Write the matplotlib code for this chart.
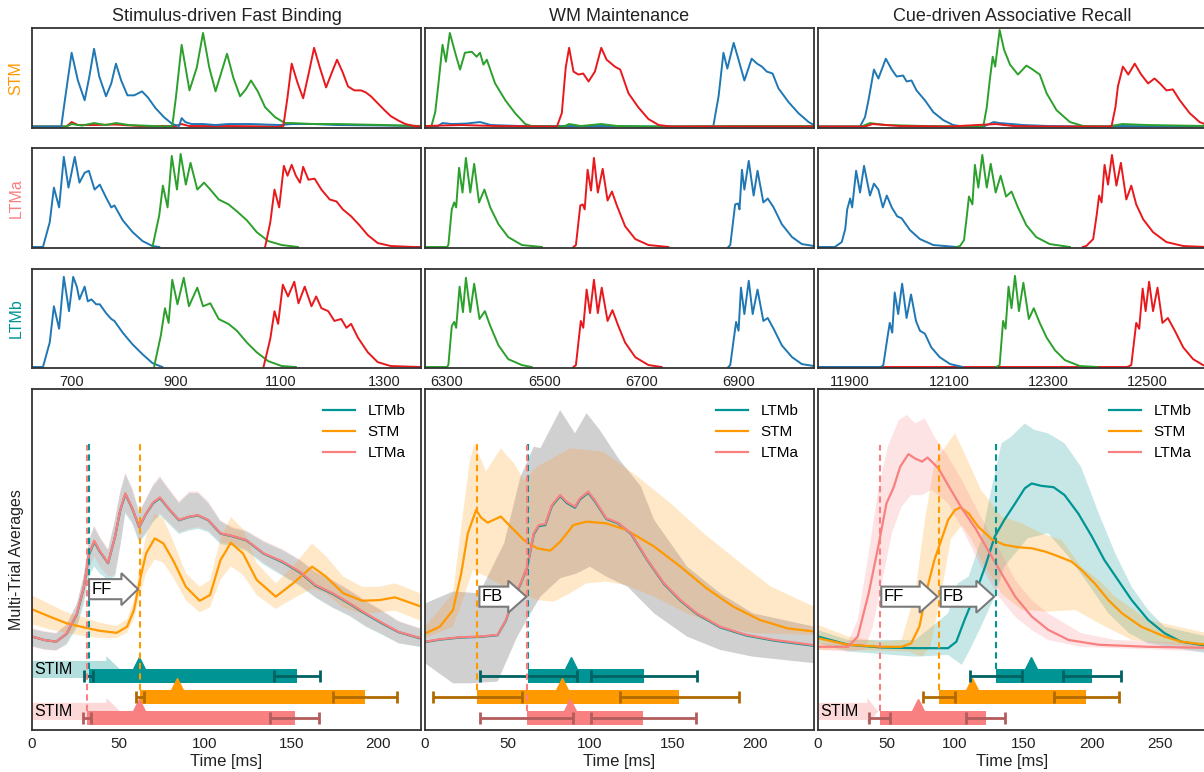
import numpy as np
import matplotlib
matplotlib.use('Agg')
import matplotlib.pyplot as plt
from matplotlib.patches import FancyArrow
from matplotlib.lines import Line2D

plt.rcParams['font.family'] = ['Liberation Sans', 'DejaVu Sans']
plt.rcParams['lines.solid_joinstyle'] = 'round'

TEAL, TEAL_D = '#009494', '#006262'
ORANGE, ORANGE_D = '#ff9900', '#b06a00'
PINK, PINK_D = '#f98080', '#b35c5c'
BLUE, GREEN, RED = '#1f77b4', '#2ca02c', '#e8191c'
EDGE = '#333333'

titles = ['Stimulus-driven Fast Binding', 'WM Maintenance', 'Cue-driven Associative Recall']
row_labels = ['STM', 'LTMa', 'LTMb']
top_xlims = [(624, 1370), (6255, 7054), (11835, 12621)]
top_xticks = [[700, 900, 1100, 1300], [6300, 6500, 6700, 6900], [11900, 12100, 12300, 12500]]
bottom_xmax = [225, 236, 284]
bottom_xticks = [[0, 50, 100, 150, 200], [0, 50, 100, 150, 200], [0, 50, 100, 150, 200, 250]]

# ---- single-trial population activity, (time, activity) pairs ----
bind_stm_blue = [(624, .005), (675, .005), (680, 0), (687, .27), (700, .75), (712, .47), (725, .27), (734, .51),
                 (743, .79), (753, .51), (766, .31), (776, .44), (785, .64), (795, .47), (807, .32), (820, .32),
                 (835, .36), (846, .30), (861, .19), (877, .10), (893, .03), (906, .01), (911, .09), (918, .05),
                 (930, .03), (952, .03), (976, .02), (1000, .03), (1044, .03), (1100, .02), (1122, .03),
                 (1165, .03), (1209, .02), (1300, .015), (1370, .01)]
bind_stm_green = [(880, .005), (893, .01), (900, .3), (911, .83), (926, .37), (940, .6), (952, .95), (964, .6),
                  (976, .36), (987, .55), (998, .74), (1010, .5), (1023, .31), (1034, .38), (1044, .47),
                  (1057, .36), (1071, .2), (1090, .1), (1109, .04), (1122, .04), (1165, .03), (1210, .03),
                  (1300, .02), (1370, .01)]
bind_stm_red = [(1100, .005), (1106, .01), (1114, .3), (1122, .64), (1133, .45), (1144, .29), (1155, .55),
                (1165, .80), (1176, .6), (1188, .40), (1199, .55), (1209, .68), (1220, .55), (1230, .41),
                (1242, .37), (1255, .37), (1264, .35), (1274, .31), (1287, .24), (1300, .17), (1312, .11),
                (1325, .07), (1340, .03), (1357, .01), (1370, .005)]
bind_stm_low_red = [(624, .005), (690, .005), (700, .05), (712, .02), (743, .02), (785, .025), (830, .01),
                    (900, .01), (911, .03), (925, .01), (1000, .01), (1100, .005)]
bind_stm_low_green = [(624, .005), (690, .005), (700, .03), (720, .015), (743, .04), (765, .02), (785, .04),
                      (810, .02), (880, .005)]

wm_stm_green = [(6255, .005), (6268, .005), (6276, .15), (6282, .41), (6291, .83), (6298, .66), (6306, .95),
                (6317, .75), (6327, .58), (6337, .75), (6351, .76), (6361, .71), (6368, .75), (6375, .63),
                (6382, .68), (6399, .44), (6420, .27), (6440, .14), (6461, .03), (6474, .01), (6540, .005),
                (6551, .03), (6575, .01), (6617, .03), (6650, .01), (6750, .005), (6900, .01), (7054, .01)]
wm_stm_red = [(6255, .01), (6290, .015), (6330, .02), (6400, .01), (6500, .005), (6526, .005), (6536, .14),
              (6544, .6), (6551, .80), (6560, .56), (6570, .53), (6580, .54), (6591, .46), (6604, .56), (6617, .80),
              (6628, .68), (6645, .61), (6656, .58), (6673, .34), (6693, .2), (6714, .08), (6735, .02),
              (6760, .005), (7054, .005)]
wm_stm_blue = [(6255, .005), (6280, .005), (6291, .04), (6310, .03), (6340, .035), (6368, .05), (6390, .02),
               (6450, .01), (6551, .01), (6617, .01), (6700, .005), (6847, .005), (6858, .31), (6868, .75),
               (6876, .59), (6889, .85), (6899, .68), (6911, .47), (6926, .69), (6937, .64), (6947, .61),
               (6957, .56), (6969, .54), (6981, .39), (7002, .25), (7022, .14), (7043, .05), (7054, .02)]

recall_stm_blue = [(11835, .005), (11920, .005), (11930, .1), (11937, .27), (11948, .58), (11957, .49),
                   (11972, .69), (11984, .58), (11994, .51), (12007, .52), (12014, .46), (12024, .47),
                   (12034, .37), (12051, .27), (12068, .15), (12088, .07), (12108, .02), (12128, .005),
                   (12169, .005), (12190, .05), (12202, .04), (12250, .02), (12300, .01), (12400, .005),
                   (12450, .01), (12621, .005)]
recall_stm_green = [(11835, .005), (11923, .005), (11940, .04), (11972, .02), (12050, .01), (12150, .005),
                    (12169, .005), (12176, .2), (12182, .47), (12188, .71), (12193, .61), (12202, .98),
                    (12211, .78), (12223, .63), (12239, .53), (12256, .62), (12266, .59), (12283, .53),
                    (12297, .34), (12317, .17), (12344, .05), (12371, .01), (12420, .005), (12450, .03),
                    (12500, .02), (12621, .01)]
recall_stm_red = [(11835, .005), (11930, .005), (11945, .03), (12000, .01), (12100, .005), (12195, .03),
                  (12230, .01), (12300, .005), (12428, .005), (12436, .2), (12441, .41), (12451, .61),
                  (12462, .53), (12475, .64), (12488, .53), (12502, .44), (12515, .49), (12526, .44),
                  (12539, .37), (12552, .38), (12566, .27), (12586, .14), (12606, .05), (12621, .02)]

bind_ltma_blue = [(624, 0), (645, 0), (658, .25), (666, .6), (676, .4), (685, .91), (694, .6), (706, .91),
                  (715, .65), (725, .75), (733, .77), (744, .58), (754, .63), (766, .5), (776, .4), (782, .42),
                  (798, .27), (817, .15), (836, .06), (855, .01), (868, 0)]
bind_ltma_green = [(855, 0), (868, .32), (875, .62), (884, .4), (892, .92), (902, .58), (909, .94), (919, .63),
                   (928, .85), (941, .58), (954, .65), (966, .58), (982, .48), (1001, .43), (1017, .36),
                   (1036, .27), (1055, .15), (1077, .06), (1103, .02), (1134, 0)]
bind_ltma_red = [(1071, 0), (1081, .25), (1089, .58), (1098, .4), (1107, .82), (1114, .72), (1122, .83),
                 (1130, .72), (1138, .65), (1144, .81), (1154, .68), (1166, .69), (1179, .58), (1195, .48),
                 (1208, .46), (1220, .38), (1236, .31), (1252, .22), (1268, .12), (1287, .04), (1312, .01),
                 (1357, 0), (1370, 0)]

bind_ltmb_blue = [(624, 0), (645, 0), (658, .25), (666, .62), (676, .39), (685, .92), (695, .57), (703, .92),
                  (710, .82), (715, .69), (725, .82), (731, .67), (738, .69), (747, .64), (754, .64), (766, .55),
                  (776, .49), (782, .47), (798, .35), (817, .23), (836, .13), (855, .04), (874, 0)]
bind_ltmb_green = [(858, 0), (871, .32), (879, .6), (886, .45), (893, .89), (903, .64), (915, .91), (925, .62),
                   (941, .81), (952, .62), (966, .65), (982, .49), (1001, .44), (1017, .37), (1036, .25),
                   (1055, .15), (1077, .06), (1103, .01), (1130, 0)]
bind_ltmb_red = [(1068, 0), (1081, .29), (1089, .57), (1096, .44), (1105, .84), (1115, .72), (1127, .87),
                 (1135, .65), (1147, .82), (1160, .62), (1169, .72), (1179, .6), (1192, .57), (1204, .47),
                 (1217, .49), (1227, .4), (1236, .44), (1249, .3), (1268, .15), (1287, .05), (1312, .01),
                 (1370, 0)]

wm_ltma_green = [(6255, 0), (6300, 0), (6303, .02), (6310, .38), (6315, .45), (6319, .4), (6325, .8),
                 (6332, .55), (6339, .9), (6348, .55), (6356, .84), (6366, .45), (6377, .58), (6389, .4),
                 (6406, .23), (6426, .1), (6454, .02), (6495, 0)]
wm_ltma_red = [(6560, 0), (6565, .02), (6574, .42), (6579, .43), (6583, .38), (6589, .78), (6596, .57),
               (6602, .9), (6610, .55), (6620, .79), (6630, .47), (6639, .56), (6649, .42), (6666, .21),
               (6687, .08), (6714, .02), (6755, 0)]
wm_ltma_blue = [(6878, 0), (6882, .02), (6892, .43), (6898, .44), (6901, .38), (6906, .78), (6911, .58),
                (6920, .87), (6930, .52), (6938, .77), (6950, .45), (6959, .49), (6971, .4), (6988, .23),
                (7009, .1), (7029, .03), (7054, .01)]

wm_ltmb_green = [(6255, 0), (6300, 0), (6303, .02), (6310, .42), (6315, .46), (6319, .4), (6326, .82),
                 (6333, .56), (6339, .91), (6348, .56), (6356, .85), (6367, .49), (6378, .57), (6389, .42),
                 (6406, .22), (6426, .08), (6454, .02), (6474, 0)]
wm_ltmb_red = [(6560, 0), (6565, .02), (6575, .47), (6580, .4), (6587, .79), (6594, .55), (6602, .89),
               (6610, .55), (6618, .81), (6630, .47), (6640, .58), (6652, .42), (6666, .25), (6687, .1),
               (6714, .02), (6741, 0)]
wm_ltmb_blue = [(6878, 0), (6882, .02), (6894, .46), (6899, .37), (6904, .81), (6911, .54), (6920, .88),
                (6928, .54), (6938, .79), (6950, .47), (6959, .5), (6971, .39), (6988, .22), (7009, .1),
                (7029, .03), (7054, .01)]

recall_ltma_blue = [(11835, 0), (11869, 0), (11883, .05), (11890, .18), (11894, .38), (11900, .49),
                    (11904, .4), (11912, .77), (11920, .55), (11928, .82), (11940, .52), (11948, .64),
                    (11957, .58), (11966, .4), (11974, .52), (11984, .4), (11995, .31), (12004, .29),
                    (12021, .17), (12041, .08), (12068, .02), (12115, 0)]
recall_ltma_green = [(12115, 0), (12122, .01), (12130, .07), (12135, .28), (12140, .51), (12147, .43),
                     (12152, .83), (12159, .6), (12167, .93), (12176, .6), (12184, .84), (12194, .55),
                     (12204, .72), (12215, .51), (12226, .56), (12239, .4), (12256, .22), (12276, .1),
                     (12303, .03), (12344, 0)]
recall_ltma_red = [(12370, 0), (12377, .01), (12391, .08), (12398, .32), (12403, .52), (12408, .45),
                   (12414, .83), (12421, .63), (12429, .93), (12438, .62), (12447, .85), (12458, .48),
                   (12468, .62), (12478, .43), (12492, .28), (12512, .15), (12539, .05), (12573, .01), (12621, 0)]

recall_ltmb_blue = [(11835, 0), (11962, 0), (11967, .02), (11975, .29), (11980, .45), (11985, .35),
                    (11990, .76), (11997, .54), (12005, .85), (12014, .5), (12023, .74), (12033, .47),
                    (12041, .37), (12051, .34), (12064, .2), (12081, .1), (12102, .03), (12128, 0)]
recall_ltmb_green = [(12195, 0), (12202, .02), (12209, .47), (12214, .39), (12220, .82), (12226, .6),
                     (12233, .93), (12241, .57), (12250, .86), (12261, .49), (12271, .6), (12283, .45),
                     (12297, .3), (12314, .17), (12334, .07), (12364, .01), (12400, 0)]
recall_ltmb_red = [(11835, 0), (12460, 0), (12468, .02), (12478, .45), (12484, .39), (12491, .8), (12497, .57),
                   (12504, .87), (12512, .57), (12521, .81), (12531, .45), (12542, .5), (12556, .37),
                   (12573, .2), (12593, .08), (12613, .02), (12621, .01)]

# ---- multi-trial averages (ms, normalised activity) ----
p1_t = [0, 7, 14, 20, 26, 30, 33, 36, 39, 44, 48, 51, 54, 58, 62, 66, 70, 74, 79, 85,
        91, 96, 102, 109, 116, 124, 134, 145, 155, 164, 174, 184, 193, 203, 212, 225]
p1_ltma_mean = [.274, .264, .259, .283, .342, .42, .518, .555, .527, .49, .567, .645, .694, .65, .596, .635,
                .667, .682, .65, .616, .626, .63, .616, .577, .569, .557, .518, .494, .464, .425, .401, .371,
                .342, .313, .288, .269]
p1_ltma_hi = [.298, .29, .285, .31, .372, .455, .56, .60, .57, .53, .62, .70, .755, .71, .64, .68, .72, .745,
              .71, .67, .70, .70, .67, .615, .595, .585, .555, .53, .50, .465, .44, .41, .38, .35, .32, .298]
p1_ltma_lo = [.244, .235, .232, .255, .31, .385, .47, .51, .48, .45, .455, .54, .64, .61, .555, .58, .615, .635,
              .61, .58, .59, .595, .585, .55, .545, .53, .49, .455, .425, .39, .36, .335, .305, .28, .255, .244]
p1_ltmb_mean = [.274, .264, .259, .282, .340, .418, .514, .552, .525, .489, .566, .643, .692, .649, .595, .634,
                .665, .680, .649, .615, .625, .629, .615, .576, .568, .556, .517, .492, .462, .423, .399, .369,
                .340, .311, .287, .268]
p1_ltmb_hi = [.296, .288, .283, .308, .37, .452, .555, .595, .565, .527, .615, .695, .75, .705, .637, .676,
              .715, .74, .705, .666, .695, .695, .665, .612, .592, .582, .552, .527, .497, .462, .437, .407,
              .377, .347, .318, .296]
p1_ltmb_lo = [.246, .237, .234, .25, .30, .37, .45, .48, .46, .44, .45, .535, .635, .605, .55, .575, .61, .63,
              .605, .575, .585, .59, .58, .545, .54, .525, .485, .452, .422, .388, .358, .333, .303, .278,
              .254, .243]
p1_stm_t = [0, 10, 20, 30, 39, 49, 55, 59, 62, 66, 71, 76, 82, 89, 97, 103, 109, 115, 122, 130,
            141, 151, 162, 170, 180, 191, 201, 210, 225]
p1_stm_mean = [.354, .333, .313, .301, .291, .285, .303, .352, .43, .518, .562, .547, .494, .42, .379, .396,
               .498, .549, .518, .44, .391, .43, .479, .45, .401, .379, .381, .389, .362]
p1_stm_hi = [.395, .37, .345, .33, .315, .305, .325, .38, .47, .57, .635, .62, .55, .46, .42, .44, .56, .625,
             .59, .49, .43, .48, .547, .51, .45, .42, .42, .43, .40]
p1_stm_lo = [.31, .295, .285, .275, .27, .27, .285, .325, .39, .46, .50, .49, .445, .38, .345, .36, .44, .48,
             .455, .395, .355, .385, .415, .40, .36, .34, .345, .35, .32]

p2_t = [0, 9, 21, 33, 44, 49, 54, 58, 62, 66, 69, 73, 77, 82, 86, 91, 94, 99, 103, 110,
        117, 125, 135, 145, 155, 165, 179, 195, 212, 236]
p2_ltma_mean = [.259, .266, .272, .274, .279, .322, .391, .43, .479, .577, .601, .604, .66, .689, .669, .655,
                .679, .699, .674, .621, .608, .577, .499, .43, .381, .342, .303, .279, .264, .249]
p2_ltmb_mean = [.258, .265, .271, .273, .278, .320, .389, .428, .477, .574, .598, .601, .657, .686, .666, .652,
                .676, .696, .671, .619, .606, .575, .497, .428, .379, .340, .301, .277, .262, .247]
p2_ltm_hi_t = [0, 17, 33, 48, 58, 66, 70, 82, 91, 98, 106, 118, 131, 139, 159, 179, 199, 236]
p2_ltm_hi = [.371, .406, .401, .547, .743, .831, .826, .938, .870, .929, .880, .792, .714, .616, .479, .401,
             .342, .303]
p2_ltm_lo_t = [0, 17, 27, 44, 56, 64, 70, 82, 92, 100, 110, 123, 139, 159, 179, 199, 236]
p2_ltm_lo = [.196, .137, .137, .142, .274, .342, .391, .445, .459, .479, .450, .420, .342, .274, .235, .215, .196]
p2_stm_t = [0, 9, 17, 22, 26, 31, 34, 38, 46, 52, 60, 68, 76, 82, 90, 98, 110, 122, 139, 155,
            171, 187, 203, 220, 236]
p2_stm_mean = [.283, .303, .352, .46, .577, .645, .623, .608, .626, .596, .557, .533, .526, .552, .601, .611,
               .606, .587, .538, .479, .415, .362, .323, .298, .289]
p2_stm_hi_t = [0, 17, 23, 27, 30, 37, 46, 54, 60, 68, 88, 108, 129, 149, 169, 189, 210, 236]
p2_stm_hi = [.303, .401, .635, .782, .841, .758, .826, .782, .733, .772, .826, .816, .743, .665, .577, .499,
             .420, .362]
p2_stm_lo_t = [0, 17, 23, 29, 37, 48, 58, 68, 78, 88, 98, 110, 122, 139, 159, 179, 199, 236]
p2_stm_lo = [.269, .303, .381, .469, .450, .420, .401, .381, .376, .401, .430, .435, .425, .391, .342, .303,
             .284, .279]

p3_ltma_t = [0, 22, 29, 37, 44, 50, 55, 60, 66, 71, 76, 80, 88, 95, 105, 115, 124, 134, 144, 156,
             168, 183, 205, 241, 284]
p3_ltma_mean = [.244, .244, .274, .401, .538, .665, .709, .772, .809, .796, .787, .799, .767, .718, .65, .591,
                .528, .459, .391, .333, .294, .264, .25, .244, .241]
p3_ltma_hi_t = [0, 22, 29, 37, 44, 51, 59, 65, 71, 78, 85, 95, 105, 115, 124, 134, 144, 156, 168, 192, 217, 284]
p3_ltma_hi = [.254, .259, .323, .518, .704, .831, .909, .924, .899, .914, .860, .802, .733, .655, .587, .518,
              .440, .381, .342, .284, .264, .254]
p3_ltma_lo_t = [0, 22, 34, 40, 46, 54, 61, 68, 76, 83, 95, 107, 119, 132, 144, 156, 168, 192, 284]
p3_ltma_lo = [.235, .230, .235, .303, .420, .577, .655, .689, .689, .704, .665, .577, .479, .391, .332, .293,
              .264, .244, .230]
p3_stm_t = [0, 22, 46, 61, 68, 74, 80, 85, 90, 95, 100, 104, 110, 117, 127, 136, 146, 156, 166, 175,
            185, 192, 202, 212, 222, 236, 253, 265, 284]
p3_stm_mean = [.269, .25, .244, .244, .254, .303, .42, .499, .557, .616, .645, .653, .635, .596, .559, .543,
               .536, .533, .523, .51, .494, .471, .43, .381, .342, .303, .274, .259, .25]
p3_stm_hi_t = [0, 22, 46, 61, 71, 78, 85, 93, 100, 107, 119, 134, 149, 163, 178, 192, 205, 217, 241, 284]
p3_stm_hi = [.308, .274, .259, .264, .401, .616, .782, .831, .870, .811, .704, .626, .606, .577, .557, .479,
             .440, .391, .323, .284]
p3_stm_lo_t = [0, 22, 66, 76, 82, 90, 97, 105, 112, 119, 134, 149, 168, 188, 205, 229, 284]
p3_stm_lo = [.235, .235, .230, .215, .244, .40, .56, .60, .56, .50, .40, .352, .347, .352, .313, .264, .240]
p3_ltmb_t = [0, 22, 46, 71, 95, 101, 107, 115, 122, 129, 136, 144, 151, 156, 163, 172, 180, 190, 200, 209,
             219, 229, 241, 253, 265, 284]
p3_ltmb_mean = [.274, .25, .242, .24, .24, .259, .323, .401, .479, .567, .616, .665, .709, .723, .716, .712,
                .689, .635, .567, .499, .44, .381, .323, .284, .259, .247]
p3_ltmb_hi_t = [0, 22, 71, 95, 102, 110, 119, 127, 134, 141, 151, 158, 168, 180, 192, 205, 217, 229, 241, 253, 284]
p3_ltmb_hi = [.293, .264, .264, .342, .430, .450, .557, .714, .841, .860, .899, .880, .870, .841, .772, .635,
              .518, .420, .352, .303, .274]
p3_ltmb_lo_t = [0, 22, 71, 95, 105, 112, 119, 129, 136, 144, 153, 168, 183, 197, 212, 227, 241, 284]
p3_ltmb_lo = [.254, .230, .215, .220, .191, .244, .303, .391, .479, .518, .562, .577, .508, .430, .342, .284,
              .254, .225]

# onset / offset / peak statistics, order: LTMb, STM, LTMa
p1_onset, p1_onset_sd = [32.7, 62.5, 31.8], [2.5, 2.3, 2.4]
p1_offset, p1_offset_sd = [153.5, 192.7, 152.0], [13.3, 18.7, 14.2]
p1_peak = [62, 84, 62]
p2_onset, p2_onset_sd = [62.7, 31.8, 61.7], [29.4, 26.9, 28.1]
p2_offset, p2_offset_sd = [133.0, 154.4, 132.5], [32.1, 36.1, 32.0]
p2_peak = [88.5, 83, 87.7]
p3_onset, p3_onset_sd = [129.8, 88.4, 45.0], [19.0, 11.9, 7.7]
p3_offset, p3_offset_sd = [200.2, 196.0, 122.3], [21.0, 23.4, 14.0]
p3_peak = [155.4, 112.5, 73]

series_names = ['LTMb', 'STM', 'LTMa']
series_colors = [TEAL, ORANGE, PINK]
series_dark = [TEAL_D, ORANGE_D, PINK_D]
bar_y = [0.158, 0.097, 0.035]
bar_h = 0.039

W, H = 1204, 772
fig = plt.figure(figsize=(W / 100, H / 100), dpi=100)
col_left = [32, 425, 818]
col_w = 389


def fig_axes(left, top, bottom):
    return fig.add_axes([left / W, 1 - bottom / H, col_w / W, (bottom - top) / H])


def style_frame(ax):
    for s in ax.spines.values():
        s.set_color(EDGE)
        s.set_linewidth(1.3)
    ax.tick_params(length=0, labelsize=10.5, colors='#222222', pad=5)
    ax.set_yticks([])


top_rows = [
    [[(bind_stm_low_red, RED), (bind_stm_low_green, GREEN), (bind_stm_blue, BLUE), (bind_stm_green, GREEN),
      (bind_stm_red, RED)],
     [(wm_stm_blue, BLUE), (wm_stm_green, GREEN), (wm_stm_red, RED)],
     [(recall_stm_blue, BLUE), (recall_stm_green, GREEN), (recall_stm_red, RED)]],
    [[(bind_ltma_blue, BLUE), (bind_ltma_green, GREEN), (bind_ltma_red, RED)],
     [(wm_ltma_green, GREEN), (wm_ltma_red, RED), (wm_ltma_blue, BLUE)],
     [(recall_ltma_blue, BLUE), (recall_ltma_green, GREEN), (recall_ltma_red, RED)]],
    [[(bind_ltmb_blue, BLUE), (bind_ltmb_green, GREEN), (bind_ltmb_red, RED)],
     [(wm_ltmb_green, GREEN), (wm_ltmb_red, RED), (wm_ltmb_blue, BLUE)],
     [(recall_ltmb_red, RED), (recall_ltmb_blue, BLUE), (recall_ltmb_green, GREEN)]],
]
row_px = [(28, 128), (148, 248), (269, 368)]

for r in range(3):
    for c in range(3):
        ax = fig_axes(col_left[c], *row_px[r])
        for pts, colr in top_rows[r][c]:
            t, v = zip(*pts)
            ax.plot(t, v, color=colr, lw=1.4)
        ax.set_xlim(*top_xlims[c])
        ax.set_ylim(-0.01, 1.0)
        style_frame(ax)
        if r == 2:
            ax.set_xticks(top_xticks[c])
        else:
            ax.set_xticks([])
        if r == 0:
            ax.set_title(titles[c], fontsize=13, color='#222222', pad=5)
        if c == 0:
            ax.set_ylabel(row_labels[r], fontsize=11.5, color=series_colors[[1, 2, 0][r]], labelpad=6)

bottom = [
    dict(lines=[(p1_t, p1_ltmb_mean), (p1_stm_t, p1_stm_mean), (p1_t, p1_ltma_mean)],
         bands=[(p1_t, p1_ltmb_hi, p1_t, p1_ltmb_lo), (p1_stm_t, p1_stm_hi, p1_stm_t, p1_stm_lo),
                (p1_t, p1_ltma_hi, p1_t, p1_ltma_lo)],
         onset=p1_onset, onset_sd=p1_onset_sd, offset=p1_offset, offset_sd=p1_offset_sd, peak=p1_peak,
         stim={0: 51, 2: 51}, links=[('FF', 2, 1)], link_y=0.413, head=9.6),
    dict(lines=[(p2_t, p2_ltmb_mean), (p2_stm_t, p2_stm_mean), (p2_t, p2_ltma_mean)],
         bands=[(p2_ltm_hi_t, p2_ltm_hi, p2_ltm_lo_t, p2_ltm_lo), (p2_stm_hi_t, p2_stm_hi, p2_stm_lo_t, p2_stm_lo),
                (p2_ltm_hi_t, p2_ltm_hi, p2_ltm_lo_t, p2_ltm_lo)],
         onset=p2_onset, onset_sd=p2_onset_sd, offset=p2_offset, offset_sd=p2_offset_sd, peak=p2_peak,
         stim={}, links=[('FB', 1, 0)], link_y=0.391, head=11),
    dict(lines=[(p3_ltmb_t, p3_ltmb_mean), (p3_stm_t, p3_stm_mean), (p3_ltma_t, p3_ltma_mean)],
         bands=[(p3_ltmb_hi_t, p3_ltmb_hi, p3_ltmb_lo_t, p3_ltmb_lo), (p3_stm_hi_t, p3_stm_hi, p3_stm_lo_t, p3_stm_lo),
                (p3_ltma_hi_t, p3_ltma_hi, p3_ltma_lo_t, p3_ltma_lo)],
         onset=p3_onset, onset_sd=p3_onset_sd, offset=p3_offset, offset_sd=p3_offset_sd, peak=p3_peak,
         stim={2: 44}, links=[('FF', 2, 1), ('FB', 1, 0)], link_y=0.391, head=13),
]

for c, d in enumerate(bottom):
    ax = fig_axes(col_left[c], 389, 730)
    # shaded spread, then the means
    for i, (ht, hv, lt, lv) in enumerate(d['bands']):
        ax.fill(np.r_[ht, lt[::-1]], np.r_[hv, lv[::-1]], color=series_colors[i], alpha=0.22, lw=0, zorder=1)
    for i in range(3):
        t, m = d['lines'][i]
        ax.plot(t, m, color=series_colors[i], lw=1.6, zorder=2, label=series_names[i])

    # stimulus arrows behind the bars
    for i, end in d['stim'].items():
        yc = bar_y[i] + bar_h / 2
        ax.add_patch(FancyArrow(0, yc, end, 0, width=0.05, head_width=0.078, head_length=8,
                                length_includes_head=True, color=series_colors[i], alpha=0.3, lw=0, zorder=1))
        ax.text(1.5, yc, 'STIM', fontsize=11.5, va='center', ha='left', zorder=6)

    # activation window bars with onset/offset spread and peak marker
    for i in range(3):
        on, off = d['onset'][i], d['offset'][i]
        ax.barh(bar_y[i], off - on, left=on, height=bar_h, color=series_colors[i], zorder=3)
        ax.errorbar([on, off], [bar_y[i]] * 2, xerr=[d['onset_sd'][i], d['offset_sd'][i]], fmt='none',
                    ecolor=series_dark[i], elinewidth=2, capsize=4.5, capthick=2, zorder=4)
        ax.plot(d['peak'][i], bar_y[i] + bar_h / 2 + 0.016, marker='^', ms=10, color=series_colors[i],
                lw=0, zorder=3)
        top = 0.836 if i == 2 else 0.845
        ax.plot([on, on], [bar_y[i] + bar_h / 2, top], color=series_colors[i], lw=1.5,
                ls=(0, (3, 2)), zorder=5)

    for lab, a, b in d['links']:
        x0 = d['onset'][a] + 1.2
        x1 = d['onset'][b] - 1.2
        ax.add_patch(FancyArrow(x0, d['link_y'], x1 - x0, 0, width=0.059, head_width=0.094,
                                head_length=d['head'], length_includes_head=True, fc='white',
                                ec='#7a7a7a', lw=1.5, zorder=6))
        ax.text(x0 + 1.5, d['link_y'], lab, fontsize=12, va='center', ha='left', zorder=7)

    ax.set_xlim(0, bottom_xmax[c])
    ax.set_ylim(0, 1)
    ax.set_xticks(bottom_xticks[c])
    style_frame(ax)
    ax.tick_params(labelsize=11)
    ax.set_xlabel('Time [ms]', fontsize=12, color='#222222', labelpad=2)
    handles = [Line2D([], [], color=series_colors[i], lw=1.6) for i in range(3)]
    ax.legend(handles, series_names, loc='upper right', frameon=False, fontsize=11,
              handlelength=2.1, labelspacing=0.45, borderaxespad=0.6)
    if c == 0:
        ax.set_ylabel('Multi-Trial Averages', fontsize=11.5, color='#222222', labelpad=6)

fig.savefig('out.png', dpi=100)
